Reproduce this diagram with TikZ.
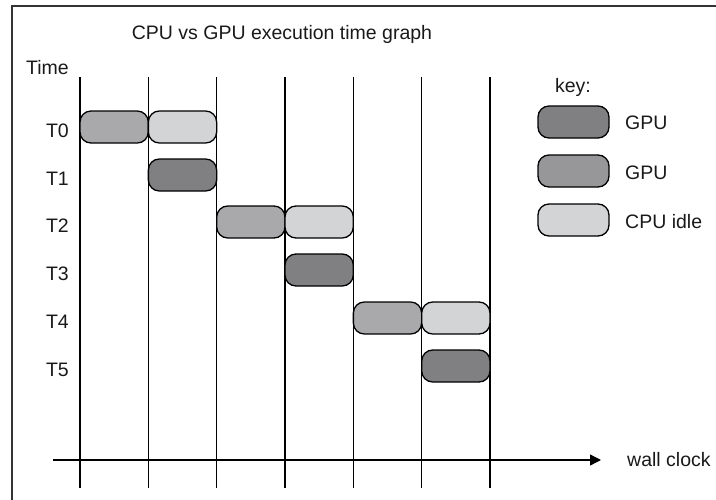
\documentclass[tikz,border=0pt]{standalone}
\usepackage{fontspec}
\setmainfont{Liberation Sans}
\usetikzlibrary{arrows.meta}
\definecolor{gdark}{HTML}{808083}
\definecolor{gmid}{HTML}{A9A9AB}
\definecolor{gkey}{HTML}{979799}
\definecolor{glight}{HTML}{D3D4D6}
\definecolor{framec}{HTML}{333333}
\begin{document}
\begin{tikzpicture}[x=1pt,y=-1pt,
  lbl/.style={font=\fontsize{19.5}{23}\selectfont, inner sep=0pt, text=black!90},
  bar/.style={draw=black, line width=1.3pt, rounded corners=11pt,
    minimum width=68.3pt, minimum height=32pt, inner sep=0pt},
  keybar/.style={bar, minimum width=71pt},
  grid/.style={line width=1.2pt, black},
]
\useasboundingbox (0,0) rectangle (716,499);
% frame
\coordinate (fbl) at (12,501);
\coordinate (ftl) at (12,6);
\coordinate (ftr) at (718,6);
\draw[line width=2pt, framec] (fbl) -- (ftl) -- (ftr);
% title and axis labels
\node[lbl, anchor=base] (title) at (282,39) {CPU vs GPU execution time graph};
\node[lbl, anchor=base east] (time) at (69,74) {Time};
\foreach \i/\y in {0/127,1/175,2/222,3/270,4/318,5/366}{
  \node[lbl, anchor=base east] (t\i) at (69,\y+10) {T\i};
}
% vertical lines
\foreach \k/\x in {1/80,2/148.3,3/216.7,4/285,5/353.3,6/421.7,7/490}{
  \coordinate (top\k) at (\x,77);
  \coordinate (bot\k) at (\x,488);
  \draw[grid] (top\k) -- (bot\k);
}
% axis
\coordinate (axs) at (53,460);
\coordinate (axe) at (601,460);
\draw[line width=1.3pt, -{Triangle[length=11pt,width=11pt]}] (axs) -- (axe);
\node[lbl, anchor=west] (wc) at (627,460) {wall clock};
% bars
\node[bar, fill=gmid]   (b0a) at (114.15,127) {};
\node[bar, fill=glight] (b0b) at (182.5,127) {};
\node[bar, fill=gdark]  (b1)  at (182.5,175) {};
\node[bar, fill=gmid]   (b2a) at (250.85,222) {};
\node[bar, fill=glight] (b2b) at (319.15,222) {};
\node[bar, fill=gdark]  (b3)  at (319.15,270) {};
\node[bar, fill=gmid]   (b4a) at (387.5,318) {};
\node[bar, fill=glight] (b4b) at (455.85,318) {};
\node[bar, fill=gdark]  (b5)  at (455.85,366) {};
% key
\node[lbl, anchor=base] (key) at (573,92) {key:};
\node[keybar, fill=gdark]  (k1) at (573.5,122) {};
\node[keybar, fill=gkey]   (k2) at (573.5,171) {};
\node[keybar, fill=glight] (k3) at (573.5,220) {};
\node[lbl, anchor=base west] (k1l) at (625,129) {GPU};
\node[lbl, anchor=base west] (k2l) at (625,179) {GPU};
\node[lbl, anchor=base west] (k3l) at (625,228) {CPU idle};
\end{tikzpicture}
\end{document}
